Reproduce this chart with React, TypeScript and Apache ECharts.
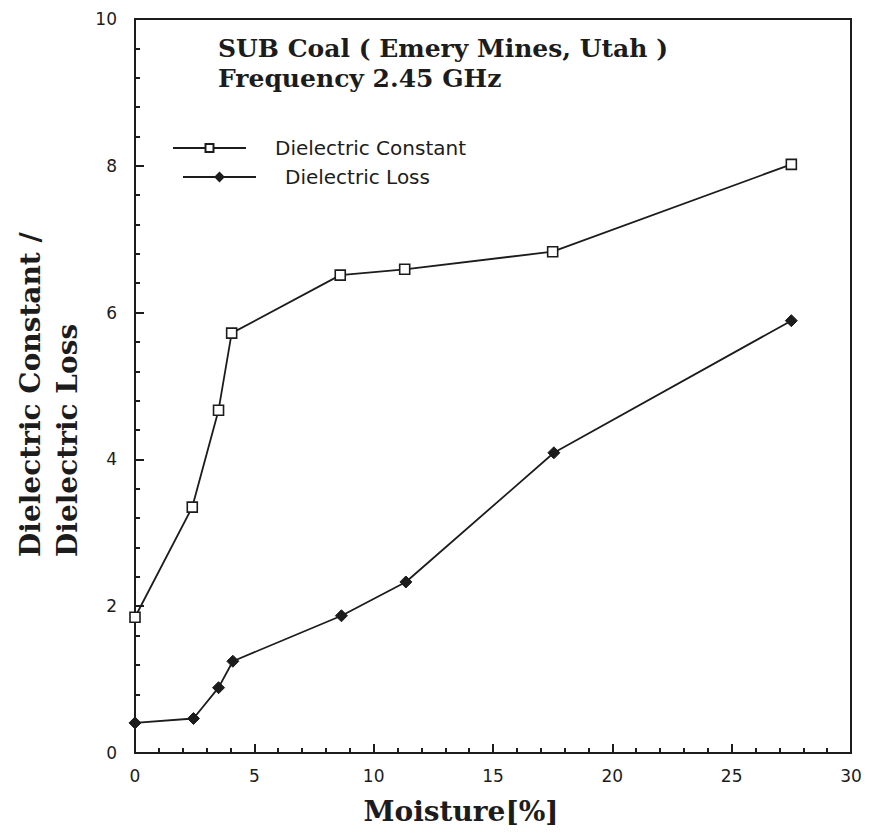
import React, { useEffect, useRef } from "react";
import * as echarts from "echarts";

const constantX = [0, 2.4, 3.5, 4.05, 8.6, 11.3, 17.5, 27.5];
const constantY = [1.85, 3.35, 4.67, 5.72, 6.51, 6.59, 6.83, 8.02];
const lossX = [0, 2.45, 3.5, 4.1, 8.65, 11.35, 17.55, 27.5];
const lossY = [0.41, 0.47, 0.89, 1.25, 1.87, 2.33, 4.09, 5.89];

const titleLines = ["SUB Coal ( Emery Mines, Utah )", "Frequency 2.45 GHz"];
const seriesNames = ["Dielectric Constant", "Dielectric Loss"];
const xAxisTitle = "Moisture[%]";
const yAxisTitleLines = ["Dielectric Constant /", "Dielectric Loss"];

const INK = "#1c1c1c";

export default function App() {
  const ref = useRef<HTMLDivElement>(null);

  useEffect(() => {
    if (!ref.current) return;
    const chart = echarts.init(ref.current, null, { renderer: "svg" });
    const pair = (xs: number[], ys: number[]) => xs.map((x, i) => [x, ys[i]]);
    const legendText = {
      fontFamily: "DejaVu Sans",
      fontSize: 20,
      color: INK,
      padding: [0, 0, 0, 24],
    };
    const tick = { show: true, inside: true, length: 9, lineStyle: { color: INK, width: 2 } };
    const minor = { show: true, splitNumber: 5, length: 5, lineStyle: { color: INK, width: 2 } };
    chart.setOption({
      animation: false,
      backgroundColor: "#ffffff",
      title: {
        text: titleLines.join("\n"),
        left: 213,
        top: 28,
        textStyle: {
          fontFamily: "DejaVu Serif",
          fontWeight: "bold",
          fontSize: 25,
          lineHeight: 30,
          color: INK,
        },
      },
      legend: [
        {
          data: [seriesNames[0]],
          left: 167,
          top: 133,
          itemWidth: 73,
          itemHeight: 10,
          textStyle: legendText,
        },
        {
          data: [seriesNames[1]],
          left: 177,
          top: 162,
          itemWidth: 73,
          itemHeight: 10,
          textStyle: legendText,
        },
      ],
      grid: {
        left: 135,
        right: 18,
        top: 19,
        bottom: 85,
        show: true,
        borderColor: INK,
        borderWidth: 2,
        backgroundColor: "transparent",
      },
      xAxis: {
        type: "value",
        min: 0,
        max: 30,
        interval: 5,
        name: xAxisTitle,
        nameLocation: "middle",
        nameGap: 44,
        nameTextStyle: {
          fontFamily: "DejaVu Serif",
          fontWeight: "bold",
          fontSize: 28,
          color: INK,
          padding: [0, 64, 0, 0],
        },
        axisLine: { show: true, lineStyle: { color: INK, width: 2 } },
        axisTick: tick,
        minorTick: minor,
        axisLabel: {
          fontFamily: "DejaVu Sans",
          fontSize: 17,
          color: INK,
          margin: 14,
        },
        splitLine: { show: false },
      },
      yAxis: {
        type: "value",
        min: 0,
        max: 10,
        interval: 2,
        axisLine: { show: true, lineStyle: { color: INK, width: 2 } },
        axisTick: tick,
        minorTick: minor,
        axisLabel: {
          fontFamily: "DejaVu Sans",
          fontSize: 17,
          color: INK,
          margin: 18,
        },
        splitLine: { show: false },
      },
      graphic: [
        {
          type: "text",
          x: 12,
          y: 557,
          rotation: Math.PI / 2,
          style: {
            text: yAxisTitleLines.join("\n"),
            fill: INK,
            font: 'bold 28px "DejaVu Serif"',
            lineHeight: 37,
            align: "left",
            verticalAlign: "top",
            textAlign: "left",
            textVerticalAlign: "top",
          },
        },
      ],
      series: [
        {
          name: seriesNames[0],
          type: "line",
          data: pair(constantX, constantY),
          symbol: "rect",
          symbolSize: 10,
          lineStyle: { color: INK, width: 1.8 },
          itemStyle: { color: "#ffffff", borderColor: INK, borderWidth: 1.6 },
          z: 3,
        },
        {
          name: seriesNames[1],
          type: "line",
          data: pair(lossX, lossY),
          symbol: "diamond",
          symbolSize: 12,
          lineStyle: { color: INK, width: 1.8 },
          itemStyle: { color: INK, borderColor: INK, borderWidth: 1 },
          z: 3,
        },
      ],
    });
    return () => chart.dispose();
  }, []);

  return (
    <div
      ref={ref}
      style={{ position: "absolute", left: 0, top: 0, width: 869, height: 838 }}
    />
  );
}
